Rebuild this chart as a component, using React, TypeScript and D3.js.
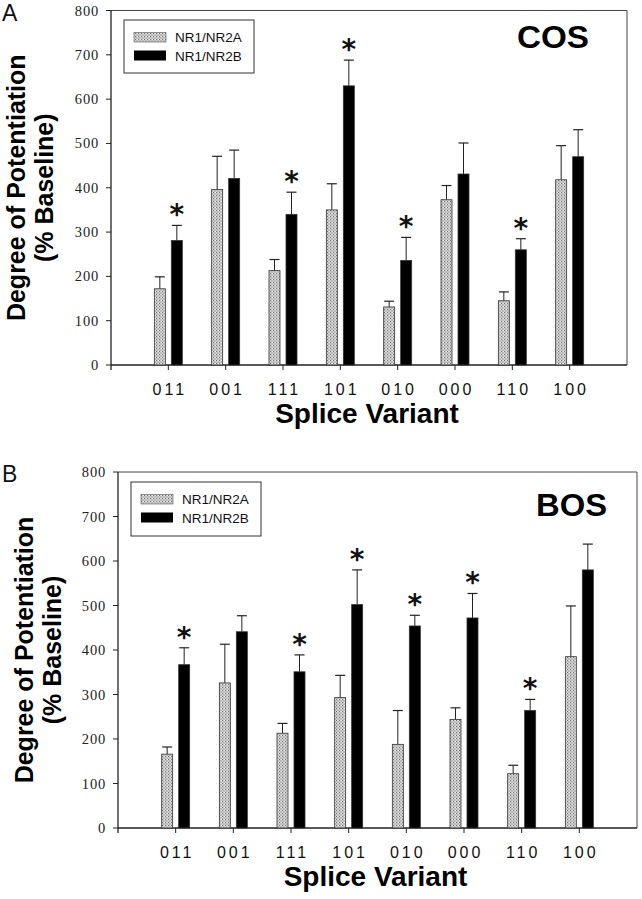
import React from "react";
import * as d3 from "d3";

const variants = ["011", "001", "111", "101", "010", "000", "110", "100"];
const yTicks = [0, 100, 200, 300, 400, 500, 600, 700, 800];
const seriesNames = ["NR1/NR2A", "NR1/NR2B"];

// Panel A (COS)
const cosNR2A = [172, 396, 213, 350, 131, 373, 145, 418];
const cosNR2AErr = [27, 75, 25, 59, 13, 32, 20, 77];
const cosNR2B = [281, 421, 340, 630, 236, 431, 260, 470];
const cosNR2BErr = [34, 64, 50, 58, 52, 70, 25, 61];
const cosSig = [true, false, true, true, true, false, true, false];

// Panel B (BOS)
const bosNR2A = [166, 326, 213, 293, 188, 244, 122, 385];
const bosNR2AErr = [16, 87, 22, 50, 76, 26, 19, 114];
const bosNR2B = [367, 441, 351, 502, 454, 472, 264, 580];
const bosNR2BErr = [38, 36, 38, 78, 24, 55, 25, 58];
const bosSig = [true, false, true, true, true, true, true, false];

type Cfg = {
  letter: string;
  title: string;
  left: number;
  right: number;
  top: number;
  bottom: number;
  a: number[];
  aErr: number[];
  b: number[];
  bErr: number[];
  sig: boolean[];
  legend: { x: number; y: number; w: number; h: number };
  titlePos: { x: number; y: number; w: number };
  labelShift: number;
};

const SANS = "Arial, 'Liberation Sans', Helvetica, sans-serif";

function Panel({ c }: { c: Cfg }) {
  const x = d3.scaleLinear().domain([0, variants.length + 1]).range([c.left, c.right]);
  const y = d3.scaleLinear().domain([0, 800]).range([c.bottom, c.top]);
  const bw = 11;
  const off = 8.5;
  const cap = 10;
  const midY = (c.top + c.bottom) / 2;

  const bar = (val: number, err: number, cx: number, fill: string, key: string) => (
    <g key={key}>
      <line x1={cx} x2={cx} y1={y(val)} y2={y(val + err)} stroke="#222" strokeWidth={1} />
      <line x1={cx - cap / 2} x2={cx + cap / 2} y1={y(val + err)} y2={y(val + err)} stroke="#222" strokeWidth={1.2} />
      <rect x={cx - bw / 2} y={y(val)} width={bw} height={y(0) - y(val)} fill={fill} stroke="#333" strokeWidth={0.8} />
    </g>
  );

  return (
    <g>
      <text x={2} y={c.top + 10} fontFamily={SANS} fontSize={23} fill="#111">{c.letter}</text>
      {/* frame */}
      <line x1={c.left} x2={c.right} y1={c.top} y2={c.top} stroke="#444" strokeWidth={1} />
      <line x1={c.right} x2={c.right} y1={c.top} y2={c.bottom} stroke="#444" strokeWidth={1} />
      {/* axes */}
      <line x1={c.left} x2={c.left} y1={c.top} y2={c.bottom + 5} stroke="#222" strokeWidth={1.3} />
      <line x1={c.left} x2={c.right} y1={c.bottom} y2={c.bottom} stroke="#222" strokeWidth={1.3} />
      {yTicks.map((t) => (
        <g key={"yt" + t}>
          <line x1={c.left - 5} x2={c.left} y1={y(t)} y2={y(t)} stroke="#222" strokeWidth={1} />
          <text x={c.left - 12} y={y(t) + 5} textAnchor="end" fontFamily="'Liberation Serif', 'Times New Roman', serif" fontSize={14.5} letterSpacing={0.8} fill="#222">{t}</text>
        </g>
      ))}
      {variants.map((v, i) => (
        <g key={"xt" + v}>
          <line x1={x(i + 1)} x2={x(i + 1)} y1={c.bottom} y2={c.bottom + 5} stroke="#222" strokeWidth={1} />
          <text x={x(i + 1) + 1.5} y={c.bottom + 30} textAnchor="middle" fontFamily="'Liberation Sans', Arial, sans-serif" fontSize={16} letterSpacing={3} fill="#111">{v}</text>
        </g>
      ))}
      {variants.map((v, i) => (
        <g key={"bars" + v}>
          {bar(c.a[i], c.aErr[i], x(i + 1) - off, "url(#stipple)", "a" + i)}
          {bar(c.b[i], c.bErr[i], x(i + 1) + off, "#000", "b" + i)}
          {c.sig[i] ? (
            <text x={x(i + 1) + off} y={y(c.b[i] + c.bErr[i]) - 1} textAnchor="middle" fontFamily="'DejaVu Sans', sans-serif" fontWeight="bold" fontSize={28} fill="#111">*</text>
          ) : null}
        </g>
      ))}
      {/* legend */}
      <rect x={c.legend.x} y={c.legend.y} width={c.legend.w} height={c.legend.h} fill="#fff" stroke="#333" strokeWidth={1} />
      <rect x={c.legend.x + 10} y={c.legend.y + 12.5} width={32} height={9.5} fill="url(#stipple)" stroke="#555" strokeWidth={0.6} />
      <rect x={c.legend.x + 10} y={c.legend.y + 30.5} width={32} height={10} fill="#000" />
      <text x={c.legend.x + 51} y={c.legend.y + 22} fontFamily={SANS} fontSize={13.5} fill="#111">{seriesNames[0]}</text>
      <text x={c.legend.x + 51} y={c.legend.y + 41} fontFamily={SANS} fontSize={13.5} fill="#111">{seriesNames[1]}</text>
      {/* title */}
      <text x={c.titlePos.x} y={c.titlePos.y} fontFamily={SANS} fontWeight="bold" fontSize={31} textLength={c.titlePos.w} lengthAdjust="spacingAndGlyphs" fill="#000">{c.title}</text>
      {/* y label */}
      <text transform={`translate(${25 + c.labelShift},${midY}) rotate(-90)`} textAnchor="middle" fontFamily={SANS} fontWeight="bold" fontSize={25} fill="#000">Degree of Potentiation</text>
      <text transform={`translate(${53 + c.labelShift},${midY}) rotate(-90)`} textAnchor="middle" fontFamily={SANS} fontWeight="bold" fontSize={25} fill="#000">(% Baseline)</text>
      {/* x label */}
      <text x={(c.left + c.right) / 2 - 2} y={c.bottom + 58} textAnchor="middle" fontFamily={SANS} fontWeight="bold" fontSize={28} fill="#000">Splice Variant</text>
    </g>
  );
}

export default function App() {
  const A: Cfg = {
    letter: "A",
    title: "COS",
    left: 111,
    right: 627,
    top: 10.5,
    bottom: 365,
    a: cosNR2A,
    aErr: cosNR2AErr,
    b: cosNR2B,
    bErr: cosNR2BErr,
    sig: cosSig,
    legend: { x: 124, y: 20, w: 130, h: 53 },
    titlePos: { x: 517, y: 48, w: 72 },
    labelShift: 0,
  };
  const B: Cfg = {
    letter: "B",
    title: "BOS",
    left: 118,
    right: 637,
    top: 472,
    bottom: 828,
    a: bosNR2A,
    aErr: bosNR2AErr,
    b: bosNR2B,
    bErr: bosNR2BErr,
    sig: bosSig,
    legend: { x: 131, y: 482, w: 130, h: 54 },
    titlePos: { x: 536, y: 516, w: 71 },
    labelShift: 8,
  };
  return (
    <svg width={642} height={899} style={{ position: "absolute", left: 0, top: 0, background: "#fff" }}>
      <defs>
        <pattern id="stipple" width={3} height={3} patternUnits="userSpaceOnUse">
          <rect width={3} height={3} fill="#cfcfcf" />
          <rect x={0} y={0} width={1} height={1} fill="#6e6e6e" />
          <rect x={1.5} y={1.5} width={1} height={1} fill="#808080" />
          <rect x={2} y={0} width={1} height={1} fill="#eeeeee" />
        </pattern>
      </defs>
      <rect width={642} height={899} fill="#fff" />
      <Panel c={A} />
      <Panel c={B} />
    </svg>
  );
}
